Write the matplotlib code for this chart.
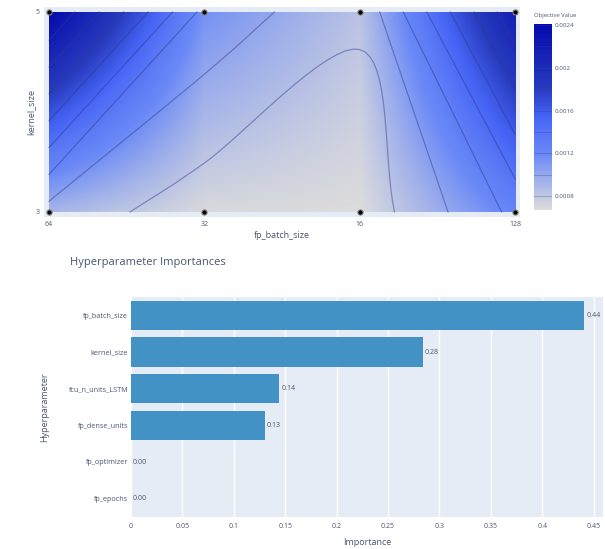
import numpy as np
import matplotlib
matplotlib.use("Agg")
import matplotlib.pyplot as plt
from matplotlib.colors import LinearSegmentedColormap
import contourpy

# ---------------- data ----------------
batch_sizes = ["64", "32", "16", "128"]
kernel_sizes = ["3", "5"]
obj_kernel3 = [0.00092, 0.00069, 0.00067, 0.00125]
obj_kernel5 = [0.00241, 0.00114, 0.00083, 0.00215]
cbar_ticks = [0.0008, 0.0012, 0.0016, 0.0020, 0.0024]
cbar_ticklabels = ["0.0008", "0.0012", "0.0016", "0.002", "0.0024"]
contour_levels = [0.0008, 0.0010, 0.0012, 0.0014, 0.0016, 0.0018, 0.0020, 0.0022, 0.0024]

params = ["fp_batch_size", "kernel_size", "fcu_n_units_LSTM", "fp_dense_units",
          "fp_optimizer", "fp_epochs"]
importances = [0.441, 0.284, 0.144, 0.130, 0.0, 0.0]
imp_ticks = [0, 0.05, 0.1, 0.15, 0.2, 0.25, 0.3, 0.35, 0.4, 0.45]
imp_ticklabels = ["0", "0.05", "0.1", "0.15", "0.2", "0.25", "0.3", "0.35", "0.4", "0.45"]

TXT = "#4a5670"
LINE = "#2d3a8c"
plt.rcParams["font.family"] = ["Open Sans", "DejaVu Sans"]

# ---------------- grid + bilinear fill (plotly heatmap-coloured contour) ----------------
Z = np.array([obj_kernel3, obj_kernel5])          # rows: kernel, cols: batch
gx = np.arange(len(batch_sizes), dtype=float)
gy = np.arange(len(kernel_sizes), dtype=float)
fxs = np.linspace(gx[0], gx[-1], 601)
fys = np.linspace(gy[0], gy[-1], 201)
tmp = np.array([np.interp(fxs, gx, row) for row in Z])            # (2, nx)
fine = np.array([np.interp(fys, gy, tmp[:, k]) for k in range(tmp.shape[1])]).T  # (ny, nx)

cmap = LinearSegmentedColormap.from_list("plotly_blues_r", [
    (0.0, (220/255, 220/255, 220/255)),
    (0.3, (106/255, 137/255, 247/255)),
    (0.4, (90/255, 120/255, 245/255)),
    (0.5, (70/255, 100/255, 245/255)),
    (0.65, (40/255, 60/255, 190/255)),
    (1.0, (5/255, 10/255, 172/255)),
])
vmin, vmax = float(Z.min()), float(Z.max())


def catmull_rom(pts, n=16):
    pts = np.asarray(pts)
    if len(pts) < 3:
        return pts
    P = np.vstack([2 * pts[0] - pts[1], pts, 2 * pts[-1] - pts[-2]])
    out = []
    t = np.linspace(0, 1, n, endpoint=False)[:, None]
    for i in range(1, len(P) - 2):
        p0, p1, p2, p3 = P[i - 1], P[i], P[i + 1], P[i + 2]
        seg = 0.5 * ((2 * p1) + (-p0 + p2) * t + (2 * p0 - 5 * p1 + 4 * p2 - p3) * t ** 2
                     + (-p0 + 3 * p1 - 3 * p2 + p3) * t ** 3)
        out.append(seg)
    out.append(P[-2][None, :])
    return np.vstack(out)


W, H = 605, 549
fig = plt.figure(figsize=(W / 100, H / 100), dpi=100)


def fx(px):
    return px / W


def fy(py):
    return 1 - py / H


# ---------------- contour plot ----------------
ax1 = fig.add_axes([fx(44), fy(217), fx(520) - fx(44), fy(7) - fy(217)])
ax1.set_facecolor("#E5ECF6")
im = ax1.imshow(fine, extent=[gx[0], gx[-1], gy[0], gy[-1]], origin="lower",
                aspect="auto", cmap=cmap, vmin=vmin, vmax=vmax, interpolation="bilinear")
gen = contourpy.contour_generator(gx, gy, Z)
for lev in contour_levels:
    for line in gen.lines(lev):
        sm = catmull_rom(line)
        ax1.plot(sm[:, 0], sm[:, 1], color=LINE, lw=0.9, alpha=0.45)
mx, my = np.meshgrid(gx, gy)
ax1.scatter(mx.ravel(), my.ravel(), s=14, c="black", edgecolors="grey", linewidths=0.8,
            zorder=5, clip_on=False)
ax1.set_xlim(-0.032, gx[-1] + 0.032)
ax1.set_ylim(-0.025, gy[-1] + 0.025)
ax1.set_xticks(gx)
ax1.set_xticklabels(batch_sizes)
ax1.set_yticks(gy)
ax1.set_yticklabels(kernel_sizes)
ax1.tick_params(length=0, labelsize=5, colors=TXT, pad=3)
for sp in ax1.spines.values():
    sp.set_visible(False)
ax1.set_xlabel("fp_batch_size", fontsize=6.5, color=TXT, labelpad=2)
ax1.set_ylabel("kernel_size", fontsize=6.5, color=TXT, labelpad=0)

cax = fig.add_axes([fx(534), fy(210), fx(552) - fx(534), fy(24) - fy(210)])
cb = fig.colorbar(im, cax=cax)
cb.set_ticks(cbar_ticks)
cb.set_ticklabels(cbar_ticklabels)
cb.outline.set_visible(False)
cb.ax.tick_params(length=0, labelsize=4.5, colors=TXT, pad=2)
for lev in contour_levels:
    if vmin <= lev <= vmax:
        cb.ax.axhline(lev, color=LINE, lw=0.6, alpha=0.35)
fig.text(fx(534), fy(16), "Objective Value", fontsize=4.2, color=TXT, va="center", ha="left")

# ---------------- importance bar chart ----------------
ax2 = fig.add_axes([fx(131), fy(517), fx(603) - fx(131), fy(297) - fy(517)])
ax2.set_facecolor("#E5ECF6")
ypos = np.arange(len(params))[::-1]
ax2.barh(ypos, importances, height=0.8, color="#4292C6", zorder=3)
for y, v in zip(ypos, importances):
    ax2.text(v + 0.002, y, f"{v:.2f}", va="center", ha="left", fontsize=5, color=TXT, zorder=4)
ax2.set_yticks(ypos)
ax2.set_yticklabels(params)
ax2.set_ylim(-0.5, len(params) - 0.5)
ax2.set_xlim(0, 0.459)
ax2.set_xticks(imp_ticks)
ax2.set_xticklabels(imp_ticklabels)
ax2.grid(axis="x", color="white", linewidth=1, zorder=0)
ax2.set_axisbelow(True)
ax2.tick_params(length=0, labelsize=5, colors=TXT, pad=4)
ax2.tick_params(axis="y", labelsize=5.2, pad=2)
for sp in ax2.spines.values():
    sp.set_visible(False)
ax2.set_xlabel("Importance", fontsize=6.5, color=TXT, labelpad=6)
ax2.set_ylabel("Hyperparameter", fontsize=6.5, color=TXT, labelpad=14)
fig.text(fx(70), fy(262), "Hyperparameter Importances", fontsize=8, color=TXT,
         va="center", ha="left")

fig.savefig("out.png", dpi=100, facecolor="white")
